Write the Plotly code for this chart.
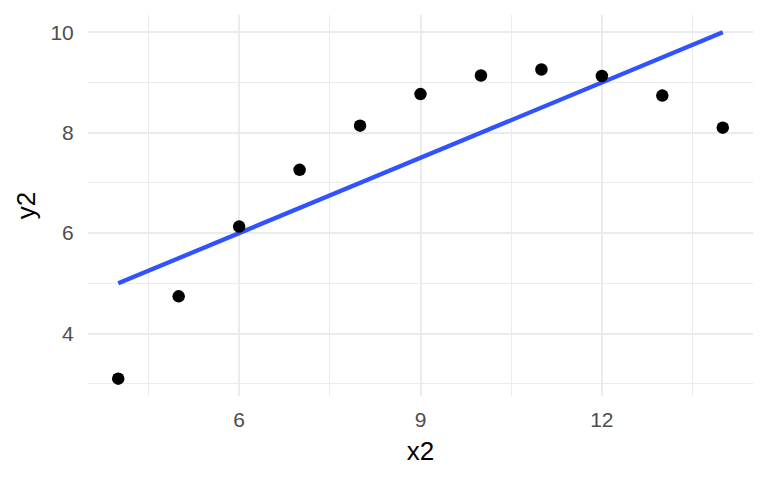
import plotly.graph_objects as go

x2 = [10, 8, 13, 9, 11, 14, 6, 4, 12, 7, 5]
y2 = [9.14, 8.14, 8.74, 8.77, 9.26, 8.10, 6.13, 3.10, 9.13, 7.26, 4.74]
fit_x = [4, 14]
fit_y = [5.0, 10.0]

fig = go.Figure()
fig.add_trace(go.Scatter(x=fit_x, y=fit_y, mode="lines",
                         line=dict(color="#3052FF", width=4.3), showlegend=False))
fig.add_trace(go.Scatter(x=x2, y=y2, mode="markers",
                         marker=dict(color="black", size=12.5), showlegend=False))

font = "Liberation Sans, Arial, sans-serif"
# page body has an 8px margin, so the figure is 760x472 and margins are offset
fig.update_layout(
    width=760, height=472,
    margin=dict(l=80, r=15, t=7, b=84),
    plot_bgcolor="white", paper_bgcolor="white",
    font=dict(family=font),
    xaxis=dict(range=[3.5, 14.5], tick0=0, dtick=3, showgrid=True,
               gridcolor="#EBEBEB", gridwidth=2, zeroline=False,
               ticks="outside", ticklen=5, tickcolor="rgba(0,0,0,0)",
               tickfont=dict(size=21, color="#4D4D4D"),
               minor=dict(dtick=1.5, showgrid=True, gridcolor="#EBEBEB", gridwidth=1),
               title=dict(text="x2", font=dict(size=26, color="black"), standoff=11)),
    yaxis=dict(range=[2.755, 10.345], tick0=0, dtick=2, showgrid=True,
               gridcolor="#EBEBEB", gridwidth=2, zeroline=False,
               ticks="outside", ticklen=9, tickcolor="rgba(0,0,0,0)",
               tickfont=dict(size=21, color="#4D4D4D"),
               minor=dict(dtick=1, showgrid=True, gridcolor="#EBEBEB", gridwidth=1),
               title=dict(text="y2", font=dict(size=26, color="black"), standoff=7)),
)
fig.write_html("out.html")
